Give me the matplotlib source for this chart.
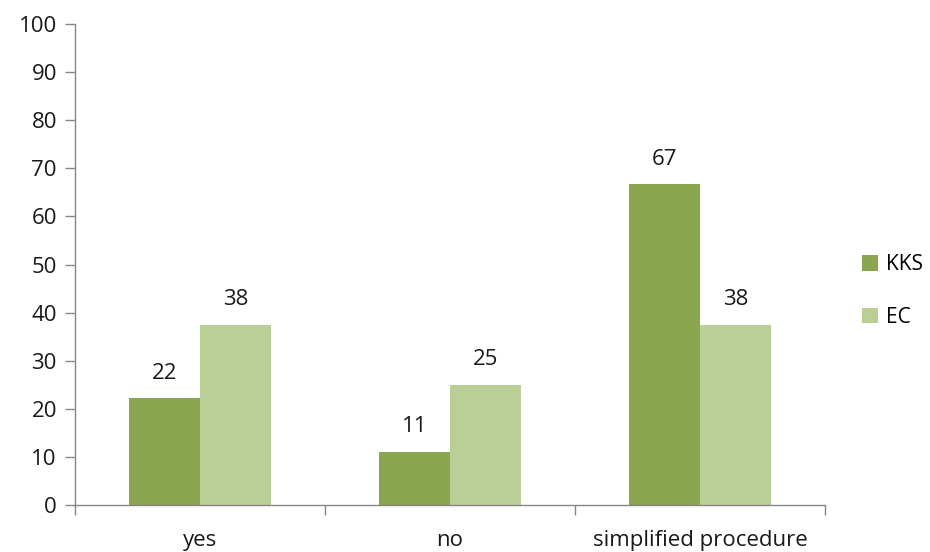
import numpy as np
import matplotlib.pyplot as plt

categories = ['yes', 'no', 'simplified procedure']
kks = [22.2, 11.1, 66.7]
ec = [37.5, 25.0, 37.5]
series_names = ['KKS', 'EC']

c_kks = '#8aa64f'
c_ec = '#b9cf96'
grey = '#868686'
fs = 16

plt.rcParams['font.family'] = ['Open Sans', 'DejaVu Sans']

fig = plt.figure(figsize=(9.3, 5.52), dpi=100)
ax = fig.add_axes([0.0806, 0.0851, 0.8065, 0.8714])

x = np.arange(len(categories))
w = 0.284
b1 = ax.bar(x - w / 2, kks, w, color=c_kks, label=series_names[0])
b2 = ax.bar(x + w / 2, ec, w, color=c_ec, label=series_names[1])

for bars, vals in ((b1, kks), (b2, ec)):
    for r, v in zip(bars, vals):
        ax.text(r.get_x() + r.get_width() / 2, v + 3.0, '%d' % round(v),
                ha='center', va='bottom', fontsize=fs, color='#1a1a1a')

ax.set_xlim(-0.5, 2.5)
ax.set_ylim(0, 100)
ax.set_yticks(range(0, 101, 10))
ax.tick_params(axis='y', labelsize=fs, colors=grey, labelcolor='#1a1a1a', length=7, width=1, pad=6)

ax.set_xticks(x)
ax.set_xticklabels(categories, fontsize=fs, color='#1a1a1a')
ax.tick_params(axis='x', length=0, pad=18)
ax.set_xticks([-0.5, 0.5, 1.5, 2.5], minor=True)
ax.tick_params(axis='x', which='minor', length=7, color=grey, width=1)

for s in ['top', 'right']:
    ax.spines[s].set_visible(False)
for s in ['left', 'bottom']:
    ax.spines[s].set_color(grey)
    ax.spines[s].set_linewidth(1)

ax.legend(loc='center left', bbox_to_anchor=(1.03, 0.445), frameon=False,
          fontsize=15, handlelength=0.75, handleheight=0.75, labelspacing=1.5,
          handletextpad=0.4, borderaxespad=0.3)

fig.savefig('out.png', dpi=100)
